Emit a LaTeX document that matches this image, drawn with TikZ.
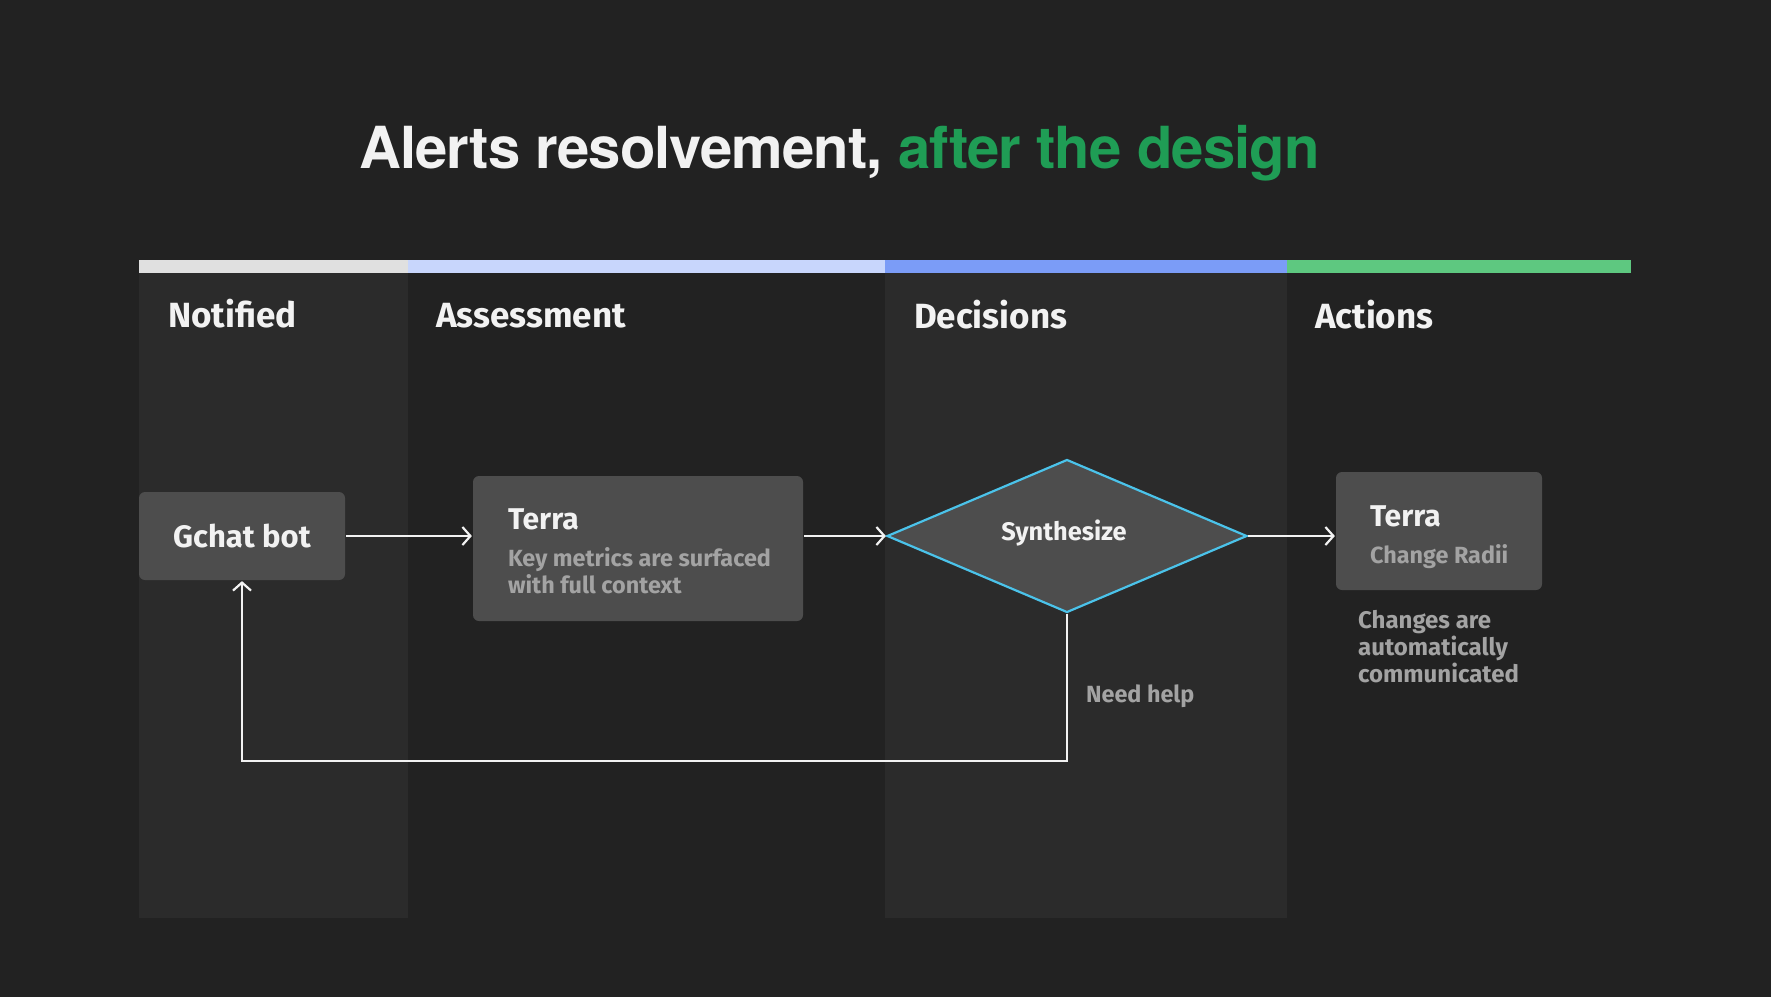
\documentclass[tikz,border=0pt]{standalone}
\usepackage{fontspec}
\usepackage{xcolor}
\usetikzlibrary{arrows.meta,shapes.geometric}

\setmainfont{Fira Sans}
\newfontfamily\titlefont{TeX Gyre Heros}[LetterSpace=-1.5]

\definecolor{bg}{HTML}{222222}
\definecolor{lane}{HTML}{2B2B2B}
\definecolor{boxgray}{HTML}{4D4D4D}
\definecolor{inkwhite}{HTML}{F2F2F2}
\definecolor{subgray}{HTML}{A3A3A3}
\definecolor{titlegreen}{HTML}{1F9D55}
\definecolor{barA}{HTML}{E0E0E0}
\definecolor{barB}{HTML}{C8D6FC}
\definecolor{barC}{HTML}{7B9CF7}
\definecolor{barD}{HTML}{5EC880}
\definecolor{synthblue}{HTML}{4BC3EA}

\begin{document}
\begin{tikzpicture}[x=.5pt, y=-.5pt, line width=1.1pt]
    \tikzstyle{head}=[anchor=base west, inner sep=0, text=inkwhite, font=\fontsize{17.5}{20}\selectfont\bfseries]
    \tikzstyle{card}=[fill=boxgray, rounded corners=3pt, inner sep=0]
    \tikzstyle{cardtitle}=[anchor=base west, inner sep=0, text=inkwhite, font=\fontsize{15}{17}\selectfont\bfseries]
    \tikzstyle{cardtext}=[anchor=base west, inner sep=0, text=subgray, align=left, font=\fontsize{11.7}{13.2}\selectfont\bfseries]
    \tikzstyle{arr}=[draw=inkwhite, -{Straight Barb[length=4pt,width=9pt]}]
    \useasboundingbox (0,0) rectangle (1771,997);
    \fill[bg] (0,0) rectangle (1771,997);

    % lanes
    \fill[lane] (139,273) rectangle (408,918);
    \fill[lane] (885,273) rectangle (1287,918);
    \fill[barA] (139,260) rectangle (408,273);
    \fill[barB] (408,260) rectangle (885,273);
    \fill[barC] (885,260) rectangle (1287,273);
    \fill[barD] (1287,260) rectangle (1631,273);

    % title
    \node[anchor=base west, inner sep=0, font=\titlefont\fontsize{29}{34}\selectfont\bfseries] (title) at (358,168)
        {\color{inkwhite}Alerts resolvement, \color{titlegreen}after the design};

    \node[head] (notified) at (167,327) {Notified};
    \node[head] (assessment) at (435,327) {Assessment};
    \node[head] (decisions) at (913,328) {Decisions};
    \node[head] (actions) at (1314,328) {Actions};

    % flow
    \node[card, minimum width=103pt, minimum height=44pt] (gchat) at (242,536) {};
    \node[text=inkwhite, inner sep=0, font=\fontsize{15.5}{18}\selectfont\bfseries] (gchat-label) at (242,536) {Gchat bot};

    \node[card, minimum width=165pt, minimum height=72.5pt] (terraA) at (638,548.5) {};
    \node[cardtitle] (terraA-title) at (507,529) {Terra};
    \node[cardtext] (terraA-text) at (507,593) {Key metrics are surfaced\\with full context};

    \node[diamond, fill=boxgray, draw=synthblue, inner sep=0, minimum width=180pt, minimum height=76.5pt] (synth) at (1067,536) {};
    \node[text=inkwhite, inner sep=0, font=\fontsize{12.7}{15}\selectfont\bfseries] (synth-label) at (1064,533) {Synthesize};

    \node[card, minimum width=103pt, minimum height=59pt] (terraB) at (1439,531) {};
    \node[cardtitle] (terraB-title) at (1369,526) {Terra};
    \node[cardtext] (terraB-text) at (1369,563) {Change Radii};
    \node[cardtext, font=\fontsize{12}{13.5}\selectfont\bfseries] (changes) at (1357,682) {Changes are\\automatically\\communicated};

    \node[cardtext, anchor=west] (needhelp) at (1085,696) {Need help};
    \coordinate (back) at (1067,761);

    \draw[arr] (gchat.east) -- (gchat.east -| terraA.west);
    \draw[arr] (synth.west -| terraA.east) -- (synth.west);
    \draw[arr] (synth.east) -- (synth.east -| terraB.west);
    \draw[arr] (synth.south) -- (back) -| (gchat.south);
\end{tikzpicture}
\end{document}
